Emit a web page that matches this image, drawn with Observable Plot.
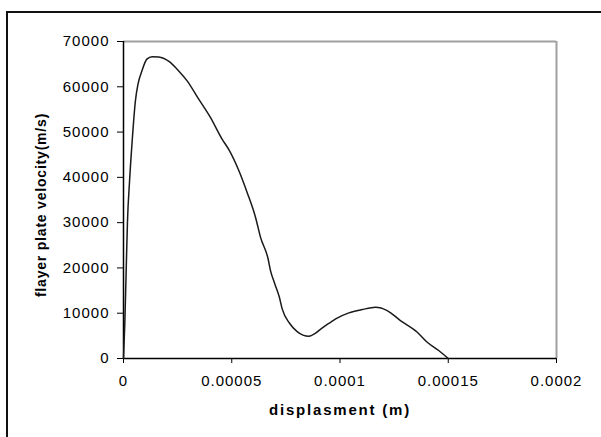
<!DOCTYPE html>
<html>
<head>
<meta charset="utf-8">
<script src="https://cdn.jsdelivr.net/npm/d3@7"></script>
<script src="https://cdn.jsdelivr.net/npm/@observablehq/plot@0.6"></script>
<style>
  html, body { margin: 0; padding: 0; background: #fff; overflow: hidden; }
  #wrap { position: relative; width: 601px; height: 437px; overflow: hidden; }
  #wrap svg { position: absolute; left: 0; top: 0; }
  .hline { position: absolute; left: 6px; top: 11px; width: 595px; height: 2px; background: #111; }
  .vline { position: absolute; left: 6px; top: 11px; width: 2px; height: 426px; background: #111; }
  svg [aria-label="y-axis tick label"] text,
  svg [aria-label="x-axis tick label"] text { letter-spacing: 1px; }
</style>
</head>
<body>
<div id="wrap"><div class="hline"></div><div class="vline"></div></div>
<script>
// Displacement (m) and flyer plate velocity (m/s)
const displacement = [
  0, 0.6e-6, 1.2e-6, 1.85e-6, 2.8e-6, 4.0e-6, 5.5e-6, 6.7e-6, 8.5e-6, 10.8e-6,
  13.2e-6, 16.3e-6, 21e-6, 25.5e-6, 29.4e-6, 34.3e-6, 40.2e-6, 45.6e-6, 48.8e-6,
  53.3e-6, 57.1e-6, 61e-6, 63.3e-6, 66.8e-6, 67.9e-6, 69.9e-6, 72e-6, 73.3e-6,
  76.7e-6, 80.2e-6, 85.6e-6, 88.7e-6, 90.2e-6, 93.3e-6, 95.6e-6, 98e-6,
  104.1e-6, 110.2e-6, 116.4e-6, 121.8e-6, 127.9e-6, 135.7e-6, 140.3e-6,
  145.6e-6, 150e-6
];
const velocity = [
  0, 7700, 18700, 30400, 39200, 48000, 56900, 60600, 63500, 66100,
  66650, 66600, 65600, 63500, 61300, 57600, 53200, 48400, 46000,
  41450, 36670, 31150, 26740, 21980, 19400, 16470, 13510, 10960,
  7780, 5950, 4920, 5580, 6170, 7280, 8000, 8750,
  10070, 10800, 11310, 10580, 8380, 5800, 3600,
  1760, 0
];
const yTicks = [0, 10000, 20000, 30000, 40000, 50000, 60000, 70000];
const xTicks = [0, 0.00005, 0.0001, 0.00015, 0.0002];
const xTickLabels = ["0", "0.00005", "0.0001", "0.00015", "0.0002"];
const yLabel = "flayer plate velocity(m/s)";
const xLabel = "displasment (m)";

const data = displacement.map((d, i) => ({x: d, v: velocity[i]}));

const chart = Plot.plot({
  width: 601,
  height: 437,
  marginLeft: 123,
  marginRight: 45,
  marginTop: 41,
  marginBottom: 79,
  x: {domain: [0, 0.0002]},
  y: {domain: [0, 70000]},
  style: {fontFamily: "'Liberation Sans', Arial, sans-serif", background: "transparent", color: "#000"},
  marks: [
    Plot.ruleY([70000], {stroke: "#a0a0a0", strokeWidth: 2}),
    Plot.ruleX([0.0002], {stroke: "#a0a0a0", strokeWidth: 2}),
    Plot.axisY({ticks: yTicks, tickSize: 6, tickPadding: 8, fontSize: 15, tickFormat: d => String(d), label: null}),
    Plot.axisX({ticks: xTicks, tickSize: 5, tickPadding: 12, fontSize: 15,
                tickFormat: d => xTickLabels[xTicks.indexOf(d)], label: null}),
    Plot.ruleX([0], {stroke: "#000", strokeWidth: 1.5}),
    Plot.ruleY([0], {stroke: "#000", strokeWidth: 1.5}),
    Plot.line(data, {x: "x", y: "v", curve: "monotone-x", stroke: "#1a1a1a", strokeWidth: 1.5}),
    Plot.text([yLabel], {text: d => d, frameAnchor: "left", textAnchor: "middle", rotate: -90,
                         dx: -82, dy: 5, fontSize: 14, fontWeight: "bold"}),
    Plot.text([xLabel], {text: d => d, frameAnchor: "bottom", dy: 56, fontSize: 15, fontWeight: "bold"})
  ]
});

d3.select(chart).selectAll("text").each(function() {
  const t = this.textContent;
  if (t === yLabel) this.setAttribute("letter-spacing", "0.8px");
  if (t === xLabel) this.setAttribute("letter-spacing", "1.8px");
});

const wrap = document.getElementById("wrap");
wrap.insertBefore(chart, wrap.firstChild);
</script>
</body>
</html>
